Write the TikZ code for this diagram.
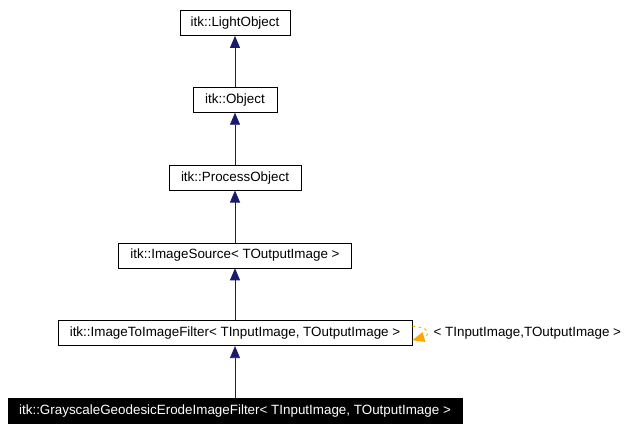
\documentclass[tikz,border=0pt]{standalone}
\usepackage{fontspec}
\setmainfont{Liberation Sans}
\usetikzlibrary{positioning,arrows.meta}
\definecolor{edgeblue}{HTML}{191970}
\definecolor{tmplorange}{HTML}{FFA500}

\begin{document}
\begin{tikzpicture}[x=1pt, y=1pt, node distance=52pt,
    cls/.style={draw, line width=0.8pt, minimum height=25pt, inner sep=0pt,
      font=\fontsize{13.4}{15}\selectfont},
    cur/.style={cls, fill=black, text=white},
    inherit/.style={draw=edgeblue, line width=0.8pt,
      -{Triangle[length=12pt, width=10pt]}, fill=edgeblue},
    tmpl/.style={draw=tmplorange, line width=0.8pt, dashed,
      -{Triangle[length=12pt, width=10pt, fill=tmplorange]}}]
  \useasboundingbox (0,0) rectangle (631,-428);
  \node[cls, minimum width=110pt] (light) at (235,-23) {itk::LightObject};
  \node[cls, minimum width=84pt, below=51pt of light] (obj) {itk::Object};
  \node[cls, minimum width=132pt, below=52pt of obj] (proc) {itk::ProcessObject};
  \node[cls, minimum width=233pt, below=52pt of proc] (src)
    {itk::ImageSource< TOutputImage >};
  \node[cls, minimum width=354pt, below=52pt of src] (iif)
    {itk::ImageToImageFilter< TInputImage, TOutputImage >};
  \node[cur, minimum width=454pt, below=52pt of iif] (gge)
    {itk::GrayscaleGeodesicErodeImageFilter< TInputImage, TOutputImage >};
  \node[anchor=west, inner sep=0pt, font=\fontsize{13.4}{15}\selectfont] (args)
    at ([xshift=21pt]iif.east) {< TInputImage,TOutputImage >};
  % inheritance
  \draw[inherit] (obj) -- (light);
  \draw[inherit] (proc) -- (obj);
  \draw[inherit] (src) -- (proc);
  \draw[inherit] (iif) -- (src);
  \draw[inherit] (gge) -- (iif);
  % template instance
  \draw[tmpl] ([yshift=7pt]iif.east) .. controls +(18,-1) and +(18,5) .. ([yshift=-7pt]iif.east);
\end{tikzpicture}
\end{document}
